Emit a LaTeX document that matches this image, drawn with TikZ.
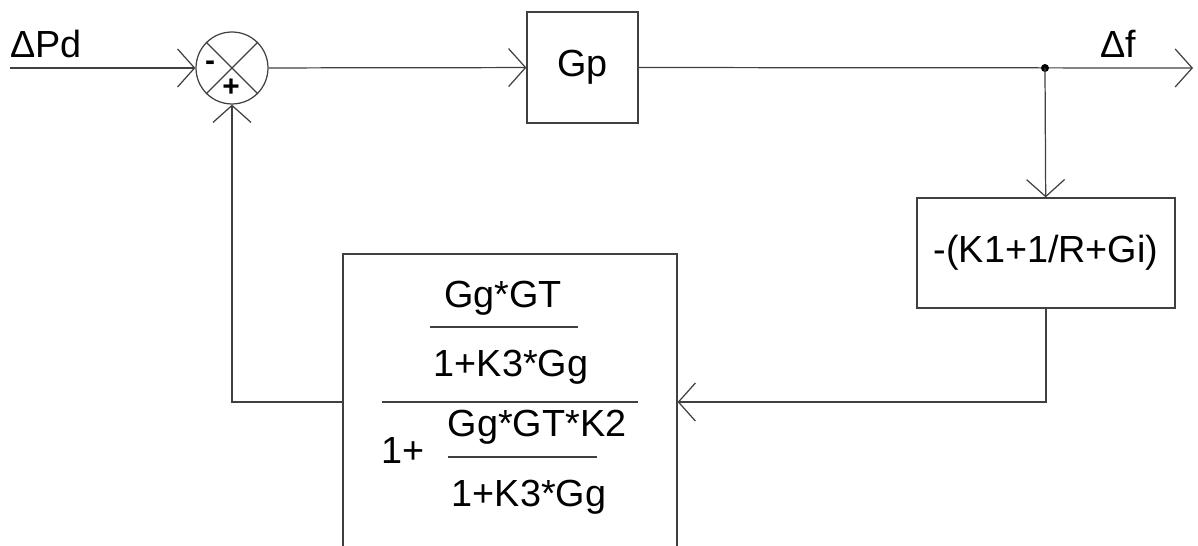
\documentclass[tikz,border=0pt]{standalone}
\usepackage{fontspec}
\setmainfont{Liberation Sans}
\usetikzlibrary{arrows.meta,positioning,calc}

\begin{document}
\begin{tikzpicture}[
    x=0.02cm, y=-0.02cm,
    >={Straight Barb[length=3.4mm,width=7.6mm]},
    wire/.style={draw=black!75, line width=0.7pt},
    block/.style={draw=black!75, line width=0.7pt, rectangle, inner sep=0pt, font=\fontsize{21.5}{24}\selectfont},
    sumnode/.style={draw=black!75, line width=0.7pt, circle, inner sep=0pt, minimum size=1.44cm},
    sign/.style={font=\fontsize{17}{20}\selectfont\bfseries, inner sep=0pt},
    label/.style={font=\fontsize{21.5}{24}\selectfont, inner sep=0pt}
]
    \clip (0,0) rectangle (1198,546);

    % Forward path
    \coordinate (in) at (10,68);
    \node[sumnode] (sum) at (232,68) {};
    \draw[wire] (sum.north west) -- (sum.south east);
    \draw[wire] (sum.north east) -- (sum.south west);
    \node[sign] (minus) at (210,66) {-};
    \node[sign] (plus) at (231,88) {+};
    \node[block, minimum width=2.22cm, minimum height=2.22cm] (gp) at (582.5,67.5) {Gp};
    \coordinate (dot) at (1045,68);
    \coordinate (out) at (1193,68);

    \node[label, anchor=base west] (pd) at (10,58) {ΔPd};
    \node[label, anchor=base west] (df) at (1100,58) {Δf};

    % Feedback blocks
    \node[block, minimum width=5.16cm, minimum height=2.2cm] (kbox) at (1046,253) {-(K1+1/R+Gi)};
    \node[block, minimum width=6.68cm, minimum height=5.92cm] (gbox) at (510,402) {};

    % Transfer function inside the lower block
    \node[label, anchor=base] (num) at (503,308) {Gg*GT};
    \node[label, anchor=base] (den) at (511,377) {1+K3*Gg};
    \node[label, anchor=base] (one) at (403,464) {1+};
    \node[label, anchor=base] (inum) at (537,437) {Gg*GT*K2};
    \node[label, anchor=base] (iden) at (529,507) {1+K3*Gg};
    \draw[wire] (430,327) -- (578,327);
    \draw[wire] (382,402) -- (638,402);
    \draw[wire] (448,457) -- (597,457);

    % Connections
    \draw[wire, ->] (in) -- (sum.west);
    \draw[wire, ->] (sum) -- (gp);
    \draw[wire, ->] (gp) -- (out);
    \fill[black] (dot) circle (4);
    \draw[wire, ->] (dot) -- (kbox);
    \draw[wire, ->] (kbox.south) |- (gbox.east);
    \draw[wire, ->] (gbox.west) -| (sum.south);

\end{tikzpicture}
\end{document}
